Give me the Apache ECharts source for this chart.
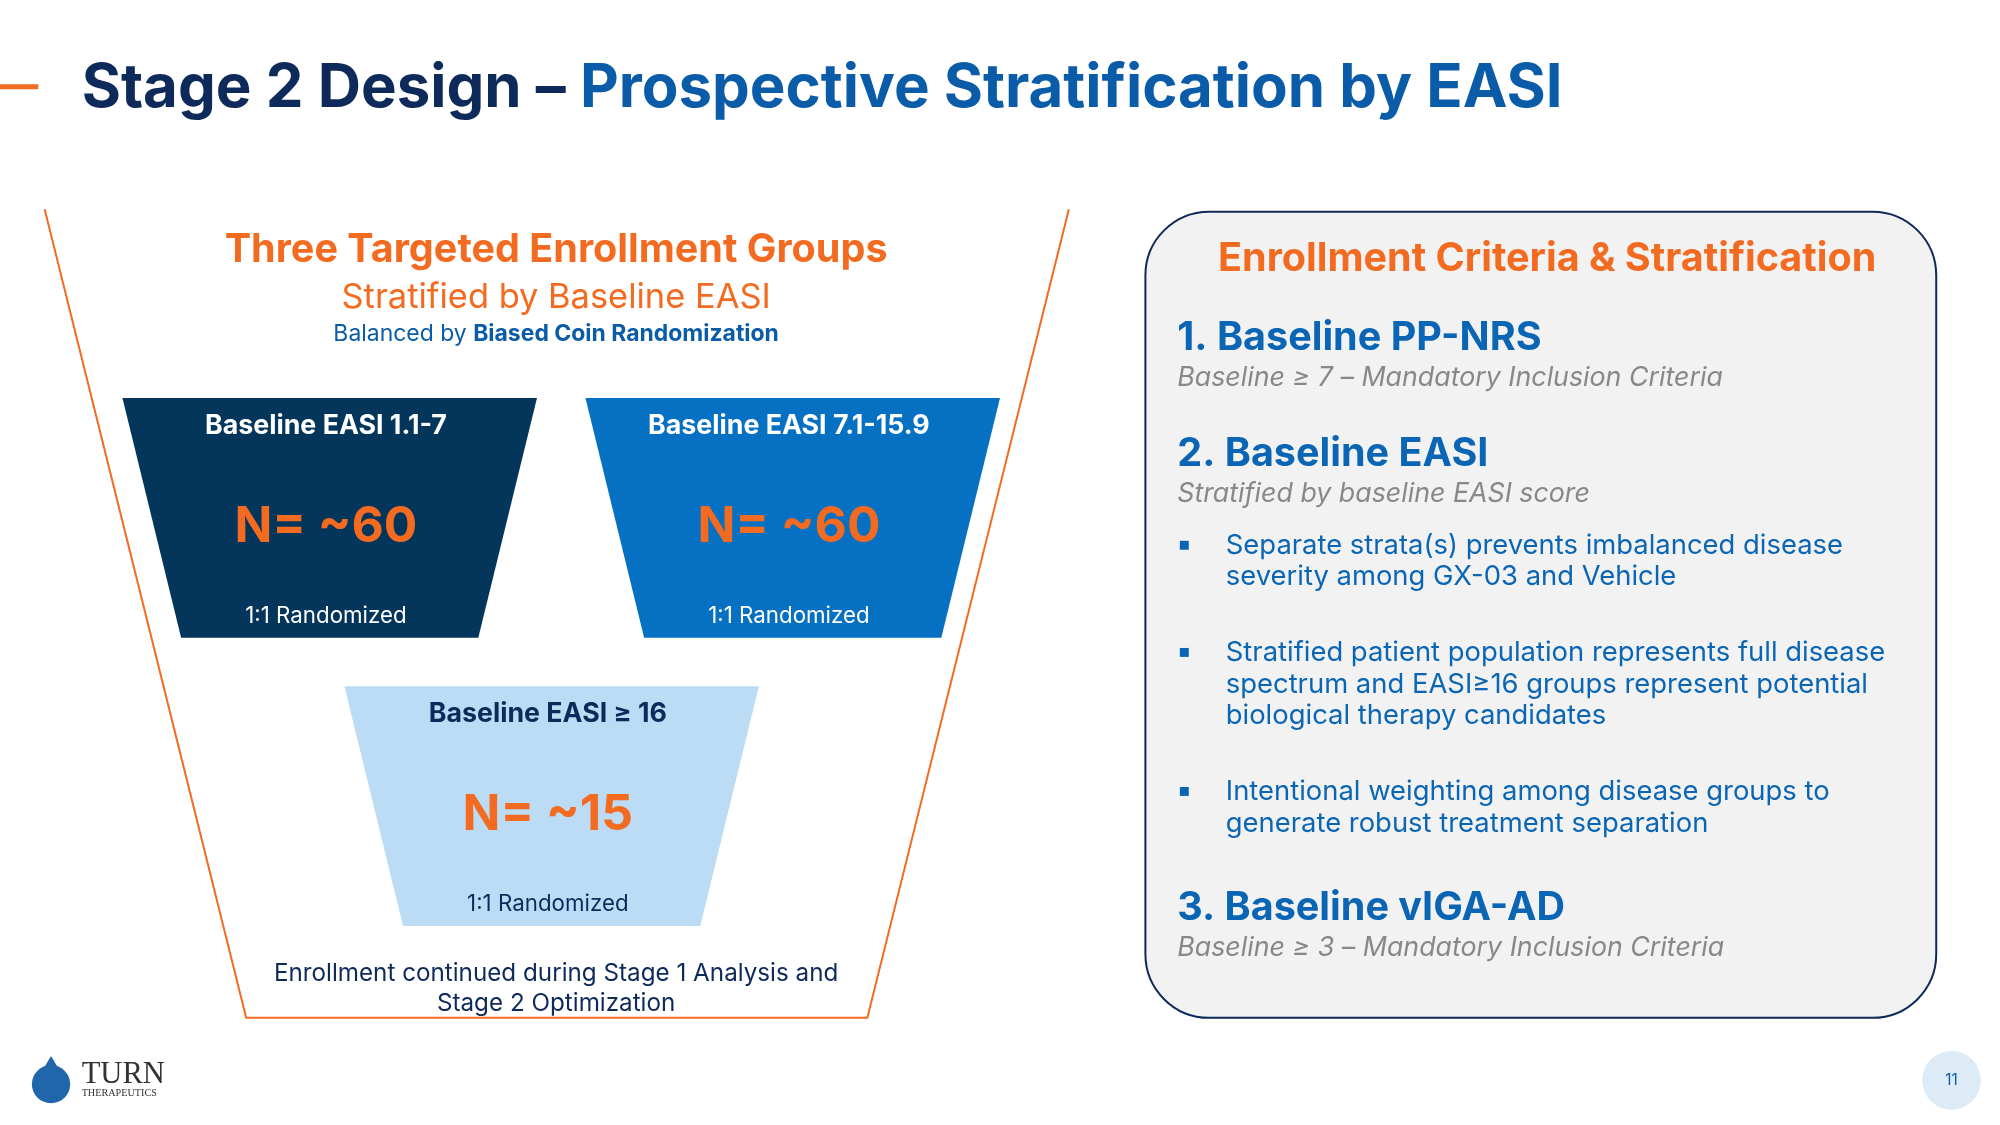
<!DOCTYPE html>
<html><head><meta charset="utf-8">
<script src="https://cdn.jsdelivr.net/npm/echarts@6/dist/echarts.min.js"></script>
<style>html,body{margin:0;padding:0;background:#fff}#main{width:2000px;height:1125px}</style>
</head><body><div id="main"></div>
<script>
// slide data
var groupLabels = ['Baseline EASI 1.1-7', 'Baseline EASI 7.1-15.9', 'Baseline EASI \u2265 16'];
var groupN = ['N= ~60', 'N= ~60', 'N= ~15'];
var groupColors = ['#04365c', '#0670c2', '#bcdcf5'];
var groupTextColors = ['#ffffff', '#ffffff', '#0d2a5a'];
var criteria = ['1. Baseline PP-NRS', '2. Baseline EASI', '3. Baseline vIGA-AD'];
var criteriaSub = ['Baseline \u2265 7 \u2013 Mandatory Inclusion Criteria', 'Stratified by baseline EASI score', 'Baseline \u2265 3 \u2013 Mandatory Inclusion Criteria'];
var bullets = [
  'Separate strata(s) prevents imbalanced disease\nseverity among GX-03 and Vehicle',
  'Stratified patient population represents full disease\nspectrum and EASI\u226516 groups represent potential\nbiological therapy candidates',
  'Intentional weighting among disease groups to\ngenerate robust treatment separation'
];

var k = 2000 / 1568;
function s(v) { return v * k; }
var F = 'Inter, "Noto Sans", sans-serif';
var orange = '#f26b21', navy = '#0d2a5a', blue = '#0a66b5';

var myChart = echarts.init(document.getElementById('main'));
var g = [];
function txt(x, y, t, size, color, weight, align, style, lh) {
  g.push({type: 'text', x: s(x), y: s(y), style: {text: t, fontSize: s(size), fill: color, fontWeight: weight || 'normal',
    fontStyle: style || 'normal', fontFamily: F, align: align || 'left', verticalAlign: 'middle', lineHeight: lh ? s(lh) : undefined}});
}
// header
g.push({type: 'rect', shape: {x: 0, y: s(66), width: s(30), height: s(4)}, style: {fill: orange}});
g.push({type: 'text', x: s(64), y: s(70), style: {rich: {
  a: {fontSize: s(47), fontWeight: 'bold', fill: navy, fontFamily: 'Inter'},
  b: {fontSize: s(47), fontWeight: 'bold', fill: '#0a5ca8', fontFamily: 'Inter'}},
  text: '{a|Stage 2 Design \u2013 }{b|Prospective Stratification by EASI}', verticalAlign: 'middle'}});
// funnel outline
g.push({type: 'polyline', shape: {points: [[s(35), s(164)], [s(193), s(798)], [s(680), s(798)], [s(838), s(164)]]},
  style: {stroke: orange, lineWidth: 2, fill: null}});
txt(436, 196, 'Three Targeted Enrollment Groups', 31, orange, 'bold', 'center');
txt(436, 233, 'Stratified by Baseline EASI', 27, orange, 'normal', 'center');
g.push({type: 'text', x: s(436), y: s(262), style: {rich: {
  a: {fontSize: s(18), fill: '#0a5ca8', fontFamily: F}, b: {fontSize: s(18), fill: '#0a5ca8', fontWeight: 'bold', fontFamily: F}},
  text: '{a|Balanced by }{b|Biased Coin Randomization}', align: 'center', verticalAlign: 'middle'}});
// trapezoids
var boxes = [[96, 312, 325, 188], [459, 312, 325, 188], [270, 538, 325, 188]];
boxes.forEach(function (b, i) {
  var x = b[0], y = b[1], w = b[2], h = b[3], inset = 46;
  g.push({type: 'polygon', shape: {points: [[s(x), s(y)], [s(x + w), s(y)], [s(x + w - inset), s(y + h)], [s(x + inset), s(y + h)]]},
    style: {fill: groupColors[i]}});
  var cx = x + w / 2;
  txt(cx - 3, y + 22, groupLabels[i], 21, groupTextColors[i], 'bold', 'center');
  txt(cx - 3, y + 101, groupN[i], 39, orange, 'bold', 'center');
  txt(cx - 3, y + 171, '1:1 Randomized', 17.5, groupTextColors[i], 'normal', 'center');
});
txt(436, 775, 'Enrollment continued during Stage 1 Analysis and\nStage 2 Optimization', 19, navy, 'normal', 'center', null, 24);
// right panel
g.push({type: 'rect', shape: {x: s(898), y: s(166), width: s(620), height: s(632), r: s(50)},
  style: {fill: '#f2f2f2', stroke: navy, lineWidth: 2}});
txt(1213, 203, 'Enrollment Criteria & Stratification', 31, orange, 'bold', 'center');
var cy = [265, 356, 712];
criteria.forEach(function (c, i) {
  txt(923, cy[i], c, 31, blue, 'bold');
  txt(923, cy[i] + 31, criteriaSub[i], 21, '#888888', 'normal', 'left', 'italic');
});
var by = [428, 512, 621];
bullets.forEach(function (b, i) {
  g.push({type: 'rect', shape: {x: s(925), y: s(by[i] - 4), width: s(7), height: s(7)}, style: {fill: blue}});
  g.push({type: 'text', x: s(961), y: s(by[i] - 13), style: {text: b, fontSize: s(21.5), fill: blue, fontFamily: F,
    lineHeight: s(25), verticalAlign: 'top'}});
});
// footer
g.push({type: 'circle', shape: {cx: s(40), cy: s(850), r: s(15)}, style: {fill: '#1f66ab'}});
g.push({type: 'polygon', shape: {points: [[s(40), s(828)], [s(28), s(848)], [s(52), s(848)]]}, style: {fill: '#1f66ab'}});
g.push({type: 'text', x: s(64), y: s(843), style: {text: 'TURN', fontSize: s(24), fill: '#333', fontFamily: 'Liberation Serif', verticalAlign: 'middle'}});
g.push({type: 'text', x: s(64), y: s(857), style: {text: 'THERAPEUTICS', fontSize: s(8), fill: '#333', fontFamily: 'Liberation Serif', verticalAlign: 'middle'}});
g.push({type: 'circle', shape: {cx: s(1530), cy: s(847), r: s(23)}, style: {fill: '#ddebf7'}});
txt(1530, 847, '11', 12, '#0a5ca8', 'normal', 'center');

option = {backgroundColor: '#fff', graphic: {elements: g}};
myChart.setOption(option);
</script></body></html>
